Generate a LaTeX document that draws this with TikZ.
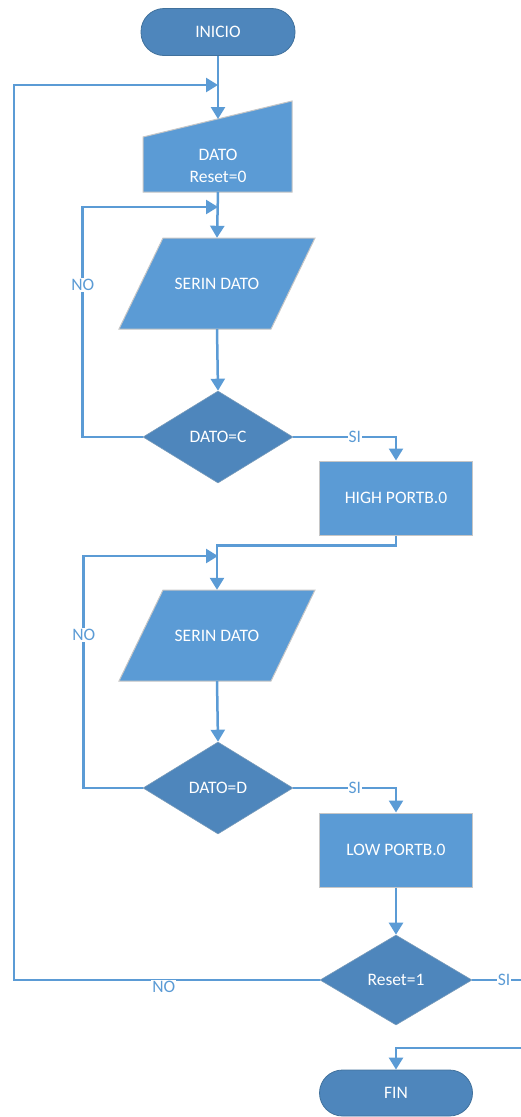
\documentclass[tikz,border=0pt]{standalone}
\usepackage{fontspec}
\setmainfont{Carlito}
\usetikzlibrary{arrows.meta,shapes.geometric}
\definecolor{boxblue}{HTML}{5B9BD5}
\definecolor{darkblue}{HTML}{4E86BC}
\definecolor{edgeblue}{HTML}{41719C}
\definecolor{lineblue}{HTML}{5B9BD5}
\tikzset{
  term/.style={rectangle, rounded corners=23pt, draw=edgeblue, line width=0.8pt, fill=darkblue, text=white, minimum width=154pt, minimum height=47pt},
  procbox/.style={rectangle, draw=gray!45, line width=1pt, fill=boxblue, text=white, minimum width=153pt, minimum height=74pt},
  ioshape/.style={fill=boxblue, draw=gray!45, line width=1pt},
  iotext/.style={rectangle, text=white, minimum width=152pt, minimum height=91pt, inner sep=0pt},
  decision/.style={diamond, draw=edgeblue!70, line width=0.6pt, fill=darkblue, text=white, minimum width=150pt, minimum height=92pt, inner sep=0pt},
  line/.style={draw=lineblue, line width=2.5pt},
  arr/.style={line, -{Triangle[length=12pt,width=14pt]}},
  lbl/.style={fill=white, text=lineblue, inner sep=1pt},
}
\begin{document}
\begin{tikzpicture}[x=1pt, y=-1pt, font=\fontsize{17.5}{22}\selectfont]
    \useasboundingbox (0,0) rectangle (521,1117);
    \clip (0,0) rectangle (521,1117);

    % Shapes drawn as paths
    \path[ioshape] (143,137) -- (292,101) -- (292,192) -- (143,192) -- cycle;
    \path[ioshape] (163,238) -- (315,238) -- (271,329) -- (119,329) -- cycle;
    \path[ioshape] (163,590) -- (315,590) -- (271,681) -- (119,681) -- cycle;

    % Nodes
    \node[term] (inicio) at (218, 32) {INICIO};
    \node[text=white, align=center] (dato) at (218, 166) {DATO\\Reset=0};
    \coordinate (datotop) at (218, 119);
    \coordinate (datobot) at (218, 192);
    \node[iotext] (serin1) at (217, 283.5) {SERIN DATO};
    \node[decision] (dec1) at (218, 437) {DATO=C};
    \node[procbox] (high) at (396, 498) {HIGH PORTB.0};
    \node[iotext] (serin2) at (217, 635.5) {SERIN DATO};
    \node[decision] (dec2) at (218, 788) {DATO=D};
    \node[procbox] (low) at (396, 850) {LOW PORTB.0};
    \node[decision, minimum width=152pt, minimum height=90pt] (dec3) at (396, 980) {Reset=1};
    \node[term, minimum width=153pt, minimum height=46pt] (fin) at (396, 1093) {FIN};

    % Junctions and free ends
    \coordinate (j1) at (218, 85);
    \coordinate (j2) at (218, 207);
    \coordinate (j3) at (218, 556);
    \coordinate (offr) at (530, 980);
    \coordinate (offr2) at (530, 1048);

    % Edges
    \draw[arr] (inicio) -- (datotop);
    \draw[arr] (datobot) -- (serin1.north);
    \draw[arr] (serin1.south) -- (dec1.north);
    \draw[arr] (dec1.west) -- ++(-60,0) |- node[lbl, pos=0.33]{NO} (j2);
    \draw[arr] (dec1.east) -| node[lbl, pos=0.3]{SI} (high.north);
    \draw[arr] (high.south) -- ++(0,10) -| (serin2.north);
    \draw[arr] (serin2.south) -- (dec2.north);
    \draw[arr] (dec2.west) -- ++(-59,0) |- node[lbl, pos=0.33]{NO} (j3);
    \draw[arr] (dec2.east) -| node[lbl, pos=0.3]{SI} (low.north);
    \draw[arr] (low.south) -- (dec3.north);
    \draw[arr] (dec3.west) -- node[lbl, pos=0.51, yshift=-7pt]{NO} (14,980) |- (j1);
    \draw[line] (dec3.east) -- node[lbl, pos=0.55]{SI} (offr);
    \draw[arr] (offr2) -| (fin.north);

\end{tikzpicture}
\end{document}
